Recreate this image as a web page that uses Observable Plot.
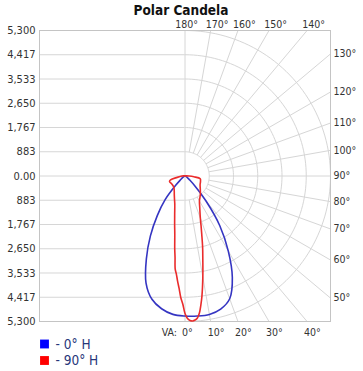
<!DOCTYPE html>
<html><head><meta charset="utf-8">
<script src="https://cdn.jsdelivr.net/npm/d3@7"></script>
<script src="https://cdn.jsdelivr.net/npm/@observablehq/plot@0.6"></script>
<style>
html,body{margin:0;padding:0;background:#fff;}
</style></head><body><div id="chart"></div>
<script>
// ---- data ----
const title = "Polar Candela";
const maxCd = 5300;
const ringValues = [883.33, 1766.67, 2650, 3533.33, 4416.67, 5300];
const ringLabels = ["883", "1,767", "2,650", "3,533", "4,417", "5,300"];
const angleTicks = [0, 10, 20, 30, 40, 50, 60, 70, 80, 90, 100, 110, 120, 130, 140, 150, 160, 170, 180];
const seriesNames = ["- 0° H", "- 90° H"];
const seriesColors = ["#3535c2", "#ea2c2c"];
const legendColors = ["#0000ff", "#ff0000"];

// 0° H plane : right side (C0) and left side (C180), vertical angle in degrees, candela
const blueRightAngles = [0, 5, 10, 15, 20, 25, 30, 35, 40, 45, 50, 60, 70, 80, 90, 120, 180];
const blueRightCd     = [5100, 5120, 5120, 5020, 4760, 4080, 3150, 2210, 1200, 510, 220, 80, 40, 30, 20, 10, 0];
const blueLeftAngles  = [0, 5, 10, 15, 20, 25, 30, 35, 40, 45, 50, 60, 70, 80, 90, 120, 180];
const blueLeftCd      = [5100, 5060, 4910, 4650, 4150, 3330, 2520, 1760, 1125, 480, 200, 80, 40, 30, 20, 10, 0];

// 90° H plane : right side (C90) and left side (C270)
const redRightAngles = [0, 1, 2, 3, 4, 5, 6, 7, 8, 10, 12, 14, 16, 18, 20, 25, 30, 40, 50, 60, 70, 80, 85, 90, 100, 120, 180];
const redRightCd     = [5009, 5191, 5268, 5290, 5260, 5191, 5020, 4736, 4429, 3739, 3122, 2650, 2214, 1888, 1634, 1271, 1053, 871, 726, 635, 600, 563, 327, 145, 36, 15, 0];
const redLeftAngles  = [0, 1, 2, 3, 4, 5, 6, 7, 8, 10, 12, 15, 20, 25, 30, 40, 50, 60, 70, 75, 80, 90, 100, 120, 180];
const redLeftCd      = [5009, 4663, 4429, 4102, 3848, 3594, 3412, 2977, 2686, 2142, 1815, 1452, 1089, 908, 780, 617, 563, 563, 600, 545, 290, 109, 36, 15, 0];

// ---- helpers ----
const FONT = '"DejaVu Sans Condensed", "DejaVu Sans", sans-serif';
const rad = d => d * Math.PI / 180;
function polarPoints(leftA, leftV, rightA, rightV, name) {
  const pts = [];
  for (let i = leftA.length - 1; i >= 0; i--) {
    const a = rad(leftA[i]);
    pts.push({x: -leftV[i] * Math.sin(a), y: -leftV[i] * Math.cos(a), s: name});
  }
  for (let i = 1; i < rightA.length; i++) {
    const a = rad(rightA[i]);
    pts.push({x: rightV[i] * Math.sin(a), y: -rightV[i] * Math.cos(a), s: name});
  }
  return pts;
}
const bluePts = polarPoints(blueLeftAngles, blueLeftCd, blueRightAngles, blueRightCd, seriesNames[0]);
const redPts = polarPoints(redLeftAngles, redLeftCd, redRightAngles, redRightCd, seriesNames[1]);

// grid rings (right half circles)
const ringPts = [];
for (const r of ringValues) {
  for (let a = 0; a <= 180; a += 2) ringPts.push({r, x: r * Math.sin(rad(a)), y: -r * Math.cos(rad(a))});
}
const spokeAngles = angleTicks.filter(a => a > 0 && a < 180);
const borderT = a => maxCd / Math.max(Math.abs(Math.sin(rad(a))), Math.abs(Math.cos(rad(a))));

const yTicks = [...ringValues.map(v => -v).reverse(), 0, ...ringValues];
const yLabel = v => v === 0 ? "0.00" : ringLabels[ringValues.findIndex(r => Math.abs(r - Math.abs(v)) < 1)];

const bottomAngles = angleTicks.filter(a => a < 45);
const rightAngles = angleTicks.filter(a => a > 45 && a < 135);
const topAngles = angleTicks.filter(a => a > 135 && a < 180);
const topCenter = angleTicks.filter(a => a === 180);

const gridColor = "#d6d6d6";
const labelColor = "#333333";
const angleFont = 10.5;

const chart = Plot.plot({
  width: 363,
  height: 371,
  marginTop: 30,
  marginBottom: 50,
  marginLeft: 39,
  marginRight: 33,
  style: {fontFamily: FONT, fontSize: "11px", color: labelColor, background: "#fff"},
  x: {domain: [-maxCd, maxCd], axis: null},
  y: {domain: [-maxCd, maxCd], ticks: yTicks, tickFormat: yLabel, tickSize: 0, tickPadding: 4, label: null},
  marks: [
    Plot.ruleY(yTicks.filter(v => Math.abs(v) < maxCd - 1), {x1: -maxCd, x2: 0, stroke: gridColor}),
    Plot.ruleX([0], {y1: -maxCd, y2: maxCd, stroke: gridColor}),
    Plot.line(ringPts, {x: "x", y: "y", z: "r", stroke: gridColor, strokeWidth: 1}),
    Plot.link(spokeAngles, {
      x1: a => ringValues[0] * Math.sin(rad(a)), y1: a => -ringValues[0] * Math.cos(rad(a)),
      x2: a => borderT(a) * Math.sin(rad(a)), y2: a => -borderT(a) * Math.cos(rad(a)),
      stroke: gridColor
    }),
    Plot.frame({stroke: "#c4c4c4"}),
    Plot.line(bluePts, {x: "x", y: "y", stroke: seriesColors[0], strokeWidth: 1.6, curve: "catmull-rom"}),
    Plot.line(redPts, {x: "x", y: "y", stroke: seriesColors[1], strokeWidth: 1.6, curve: "catmull-rom"}),
    // angle labels
    Plot.text(bottomAngles, {x: a => maxCd * Math.tan(rad(a)), y: -maxCd, text: a => a + "°", textAnchor: "start", dx: -3, dy: 11, fill: labelColor, fontSize: angleFont}),
    Plot.text([0], {x: 0, y: -maxCd, text: () => "VA:", textAnchor: "end", dx: -8, dy: 11, fill: labelColor, fontSize: angleFont}),
    Plot.text(rightAngles, {x: maxCd, y: a => -maxCd / Math.tan(rad(a)), text: a => a + "°", textAnchor: "start", dx: 3, fill: labelColor, fontSize: angleFont}),
    Plot.text(topAngles, {x: a => -maxCd * Math.tan(rad(a)), y: maxCd, text: a => a + "°", textAnchor: "middle", dx: 6.5, dy: -6, fill: labelColor, fontSize: angleFont}),
    Plot.text(topCenter, {x: 0, y: maxCd, text: a => a + "°", textAnchor: "middle", dx: 1.5, dy: -6, fill: labelColor, fontSize: angleFont}),
    // title
    Plot.text([title], {frameAnchor: "top", lineAnchor: "middle", text: d => d, dy: -20, dx: -4, fontSize: 13.5, fontWeight: "bold", fill: "#111"}),
    // legend
    ...seriesNames.map((name, i) => Plot.dot([name], {frameAnchor: "bottom-left", dx: 5, dy: 22.5 + i * 16.5, symbol: "square", r: 5, fill: legendColors[i], stroke: null})),
    ...seriesNames.map((name, i) => Plot.text([name], {frameAnchor: "bottom-left", lineAnchor: "middle", dx: 16, dy: 23 + i * 16, text: d => d, textAnchor: "start", fill: "#27367a", fontSize: 13.5}))
  ]
});
document.getElementById("chart").appendChild(chart);
</script></body></html>
